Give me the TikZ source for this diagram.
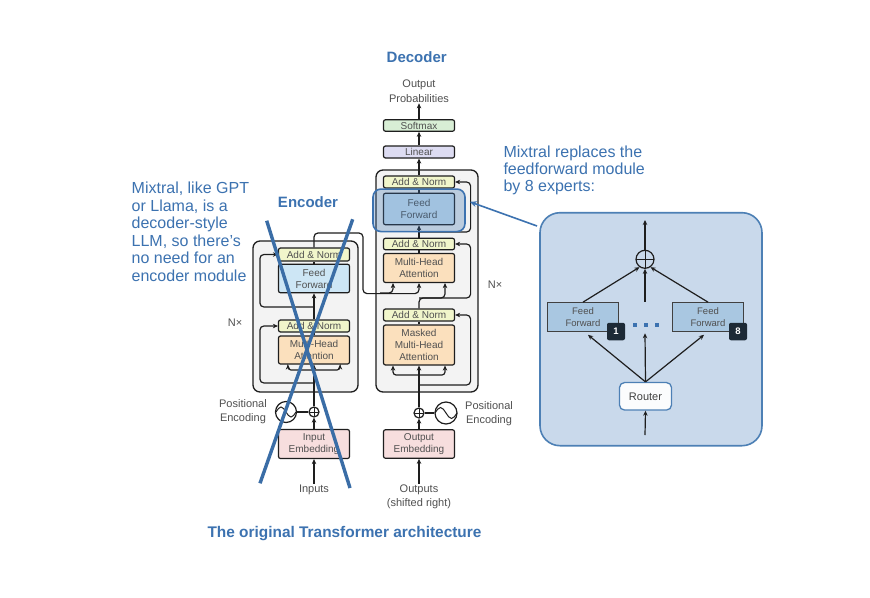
\documentclass[tikz,border=0pt]{standalone}
\usepackage{fontspec}
\setmainfont{Liberation Sans}
\usetikzlibrary{arrows.meta,calc}
\definecolor{bluetxt}{HTML}{3C72B0}
\definecolor{xblue}{HTML}{3A6DA6}
\definecolor{linecol}{HTML}{1E1E1E}
\definecolor{txtgray}{HTML}{505050}
\definecolor{anfill}{HTML}{F1F6CB}
\definecolor{fffill}{HTML}{CDE6F5}
\definecolor{mhafill}{HTML}{FBE0BD}
\definecolor{embfill}{HTML}{F7DEDE}
\definecolor{smfill}{HTML}{D8EED5}
\definecolor{linfill}{HTML}{DDDCF2}
\definecolor{outerfill}{HTML}{F3F3F3}
\definecolor{moefill}{HTML}{C9D9EB}
\definecolor{moedraw}{HTML}{4D80B5}
\definecolor{moeff}{HTML}{A9C7E1}
\definecolor{badgefill}{HTML}{1D2A36}
\begin{document}
\begin{tikzpicture}[x=1pt,y=-1pt,
  blk/.style={draw=linecol, line width=1.2pt, rounded corners=2pt, inner sep=0pt,
    minimum width=71pt, font=\fontsize{10}{12}\selectfont, text=txtgray, align=center},
  outer/.style={draw=linecol, line width=1.3pt, rounded corners=7pt, fill=outerfill, inner sep=0pt},
  wire/.style={draw=linecol, line width=1.2pt},
  arw/.style={wire, -{Stealth[length=5pt,width=4.5pt]}},
  lbl/.style={font=\fontsize{11}{14.5}\selectfont, text=txtgray, align=center, inner sep=1pt},
  oplus/.style={circle, draw=linecol, line width=1.2pt, inner sep=0pt,
    path picture={\draw[linecol, line width=1pt] (path picture bounding box.north) -- (path picture bounding box.south)
      (path picture bounding box.west) -- (path picture bounding box.east);}},
  bigtxt/.style={font=\fontsize{16}{17.5}\selectfont, text=bluetxt, align=left, inner sep=0pt},
  head/.style={font=\fontsize{15}{17}\selectfont\bfseries, text=bluetxt, inner sep=0pt},
  badge/.style={fill=badgefill, rounded corners=2pt, minimum width=18pt, minimum height=17.5pt,
    inner sep=0pt, text=white, font=\fontsize{9.5}{10}\selectfont\bfseries},
  moeblk/.style={draw=linecol!85, line width=1.2pt, fill=moeff, inner sep=0pt, minimum width=71pt,
    minimum height=28.5pt, font=\fontsize{9.5}{12}\selectfont, text=txtgray, align=center},
  dotsq/.style={fill=bluetxt, minimum size=4.5pt, inner sep=0pt}
]
\useasboundingbox (0,0) rectangle (870,597);
\fill[white] (0,0) rectangle (870,597);

% ---------- outer boxes ----------
\node[outer, minimum width=105pt, minimum height=151pt] (eBox) at (305.5,316.5) {};
\node[outer, minimum width=102pt, minimum height=222pt] (dBox) at (427,281) {};

% ---------- encoder blocks ----------
\node[blk, fill=anfill, minimum height=13pt] (eAN2) at (314,254.5) {Add \& Norm};
\node[blk, fill=fffill, minimum height=28.5pt] (eFF) at (314,278.5) {Feed\\Forward};
\node[blk, fill=anfill, minimum height=12pt] (eAN1) at (314,326) {Add \& Norm};
\node[blk, fill=mhafill, minimum height=28pt] (eMHA) at (314,350) {Multi-Head\\Attention};
\node[blk, fill=embfill, minimum height=29pt] (eEmb) at (314,444) {Input\\Embedding};
\node[oplus, minimum size=10pt] (ePlus) at (314,412) {};
\node[circle, draw=linecol, line width=1.2pt, minimum size=21pt, inner sep=0pt] (ePE) at (286,412) {};
\draw[linecol, line width=1pt] ($(ePE)+(-10,0)$) sin ++(5,-5) cos ++(5,5) sin ++(5,5) cos ++(5,-5);
\node[lbl, anchor=east] (ePEtxt) at (268,411.5) {Positional\\Encoding};
\node[lbl] (inputs) at (314,490) {Inputs};
\node[lbl] (eN) at (235,323) {N×};

% ---------- decoder blocks ----------
\node[blk, fill=smfill, minimum height=11.5pt] (dSoft) at (419,125.5) {Softmax};
\node[blk, fill=linfill, minimum height=12pt] (dLin) at (419,152) {Linear};
\node[blk, fill=anfill, minimum height=12pt] (dAN3) at (419,182) {Add \& Norm};
\node[blk, fill=fffill, minimum height=31.5pt] (dFF) at (419,209) {Feed\\Forward};
\node[blk, fill=anfill, minimum height=11.5pt] (dAN2) at (419,244) {Add \& Norm};
\node[blk, fill=mhafill, minimum height=29pt] (dMHA) at (419,268) {Multi-Head\\Attention};
\node[blk, fill=anfill, minimum height=12pt] (dAN1) at (419,315) {Add \& Norm};
\node[blk, fill=mhafill, minimum height=40pt] (dMMHA) at (419,345) {Masked\\Multi-Head\\Attention};
\node[blk, fill=embfill, minimum height=28.5pt] (dEmb) at (419,444) {Output\\Embedding};
\node[oplus, minimum size=10pt] (dPlus) at (419,413) {};
\node[circle, draw=linecol, line width=1.2pt, minimum size=22pt, inner sep=0pt] (dPE) at (446,413) {};
\draw[linecol, line width=1pt] ($(dPE)+(-11,0)$) sin ++(5.5,-5.5) cos ++(5.5,5.5) sin ++(5.5,5.5) cos ++(5.5,-5.5);
\node[lbl, anchor=west] (dPEtxt) at (464,413.5) {Positional\\Encoding};
\node[lbl, font=\fontsize{11}{14}\selectfont] (outputs) at (419,497) {Outputs\\(shifted right)};
\node[lbl, font=\fontsize{11}{14.5}\selectfont] (outprob) at (419,91) {Output\\Probabilities};
\node[lbl] (dN) at (495,285) {N×};

% ---------- encoder wires ----------
\draw[arw] (inputs.north) -- (eEmb.south);
\draw[arw] (eEmb.north) -- (ePlus.south);
\draw[wire] (ePE.east) -- (ePlus.west);
\draw[arw] (ePlus.north) -- (eMHA.south);
\coordinate (e1split) at (314,383);
\coordinate (e1in) at (314,370);
\draw[arw, rounded corners=4pt] (e1split) -| ([xshift=-18pt]eAN1.west) -- (eAN1.west);
\draw[arw, rounded corners=3pt] (e1in) -| ([xshift=-26pt]eMHA.south);
\draw[arw, rounded corners=3pt] (e1in) -| ([xshift=26pt]eMHA.south);
\draw[wire] (eMHA.north) -- (eAN1.south);
\draw[arw] (eAN1.north) -- (eFF.south);
\coordinate (e2split) at (314,307);
\draw[arw, rounded corners=4pt] (e2split) -| ([xshift=-18pt]eAN2.west) -- (eAN2.west);
\draw[wire] (eFF.north) -- (eAN2.south);

% encoder output to decoder cross-attention
\coordinate (encUp) at (363,233);
\coordinate (kvline) at (380,293);
\draw[arw, rounded corners=4pt] (eAN2.north) |- (encUp) |- ([yshift=-10.5pt]dMHA.south) -- (dMHA.south);
\draw[arw, rounded corners=4pt] (kvline) -| ([xshift=-26pt]dMHA.south);

% ---------- decoder wires ----------
\draw[arw] (outputs.north) -- (dEmb.south);
\draw[arw] (dEmb.north) -- (dPlus.south);
\draw[wire] (dPE.west) -- (dPlus.east);
\draw[arw] (dPlus.north) -- (dMMHA.south);
\coordinate (d0split) at (419,385);
\coordinate (d0in) at (419,375);
\draw[arw, rounded corners=4pt] (d0split) -| ([xshift=15.5pt]dAN1.east) -- (dAN1.east);
\draw[arw, rounded corners=3pt] (d0in) -| ([xshift=-26pt]dMMHA.south);
\draw[arw, rounded corners=3pt] (d0in) -| ([xshift=26pt]dMMHA.south);
\draw[wire] (dMMHA.north) -- (dAN1.south);
\coordinate (d1split) at (419,298);
\draw[arw, rounded corners=4pt] (dAN1.north) |- ([xshift=13pt]d1split) -| ([xshift=26pt]dMHA.south);
\draw[arw, rounded corners=4pt] (d1split) -| ([xshift=15.5pt]dAN2.east) -- (dAN2.east);
\draw[wire] (dMHA.north) -- (dAN2.south);
\draw[arw] (dAN2.north) -- (dFF.south);
\coordinate (d2split) at (419,232);
\draw[arw, rounded corners=4pt] (d2split) -| ([xshift=15.5pt]dAN3.east) -- (dAN3.east);
\draw[wire] (dFF.north) -- (dAN3.south);
\draw[arw] (dAN3.north) -- (dLin.south);
\draw[arw] (dLin.north) -- (dSoft.south);
\draw[arw] (dSoft.north) -- (outprob.south);

% highlight of decoder feed forward
\node[draw=bluetxt, line width=1.6pt, fill=bluetxt, fill opacity=0.3, rounded corners=8pt,
  minimum width=92pt, minimum height=42.5pt, inner sep=0pt] (hl) at (419,210.3) {};

% ---------- MoE panel ----------
\node[draw=moedraw, line width=1.6pt, fill=moefill, rounded corners=20pt,
  minimum width=222pt, minimum height=233pt, inner sep=0pt] (moeBox) at (651,329.2) {};
\node[oplus, minimum size=18pt] (sum) at (645,259.3) {};
\coordinate (moeOut) at (645,220);
\coordinate (moeIn) at (645,435);
\node[moeblk] (ff1) at (583,317) {Feed\\Forward};
\node[moeblk] (ff8) at (708,317) {Feed\\Forward};
\node[badge] (b1) at (616,331.5) {1};
\node[badge] (b8) at (738,331.5) {8};
\node[dotsq] (dot1) at (635,325) {};
\node[dotsq] (dot2) at (646,325) {};
\node[dotsq] (dot3) at (657,325) {};
\node[draw=moedraw, line width=1.3pt, fill=white!92!moefill, rounded corners=5pt,
  minimum width=52pt, minimum height=27.5pt, inner sep=0pt, font=\fontsize{11}{12}\selectfont,
  text=linecol!85] (router) at (645.5,396.3) {Router};
\coordinate (midtop) at (645,301.7);
\coordinate (midbot) at (645,333.3);
\draw[arw] (moeIn) -- (router.south);
\draw[arw] (router.north) -- ($(ff1.south)+(5,3)$);
\draw[arw] (router.north) -- (midbot);
\draw[arw] (router.north) -- ($(ff8.south)+(-4,3)$);
\draw[arw] (ff1.north) -- (sum.235);
\draw[arw] (midtop) -- (sum.south);
\draw[arw] (ff8.north) -- (sum.305);
\draw[arw] (sum.north) -- (moeOut);

% callout arrow
\coordinate (callStart) at (537,226);
\draw[draw=bluetxt, line width=1.6pt, -{Stealth[length=7pt,width=6pt]}] (callStart) -- ($(hl.east)+(4,-8.5)$);

% ---------- texts ----------
\node[head] (encT) at (308,201.7) {Encoder};
\node[head] (decT) at (416.7,56.7) {Decoder};
\node[bigtxt, anchor=west] (leftT) at (131.5,232) {Mixtral, like GPT\\or Llama, is a\\decoder-style\\LLM, so there’s\\no need for an\\encoder module};
\node[bigtxt, anchor=west, font=\fontsize{16}{16.7}\selectfont] (callT) at (503.3,170.5) {Mixtral replaces the\\feedforward module\\by 8 experts:};
\node[head, font=\fontsize{15.4}{17}\selectfont\bfseries] (title) at (344.5,533.3) {The original Transformer architecture};

% ---------- crossing-out lines ----------
\draw[xblue, line width=3.4pt] (266.7,220.7) -- (350,488);
\draw[xblue, line width=3.4pt] (352.7,219.3) -- (260,483.3);
\end{tikzpicture}
\end{document}
